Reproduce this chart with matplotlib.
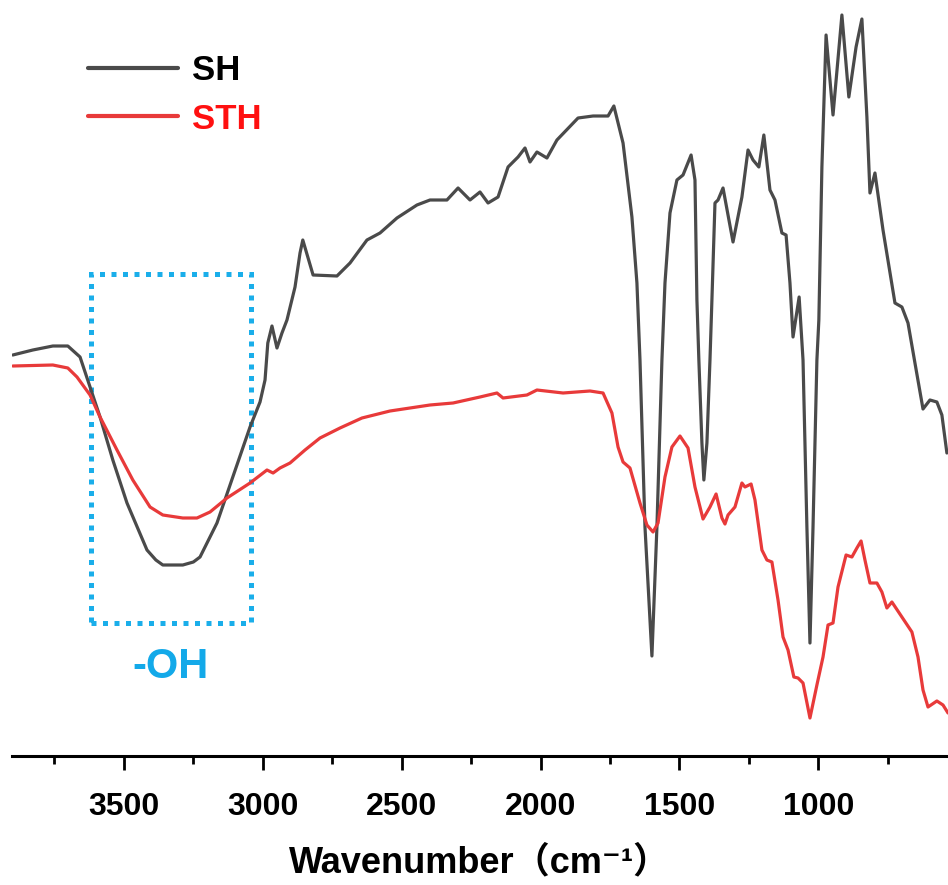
import matplotlib
matplotlib.use("Agg")
import matplotlib.pyplot as plt
from matplotlib.patches import Rectangle
from matplotlib.ticker import MultipleLocator

# ---- data ----
sh_wn = [3900, 3828, 3756, 3702, 3658, 3622, 3586, 3540, 3489, 3417, 3385, 3360, 3288, 3250,
         3226, 3165, 3108, 3046, 3010, 2992, 2982, 2967, 2949, 2931, 2913, 2884, 2866, 2856,
         2838, 2819, 2733, 2686, 2625, 2578, 2517, 2445, 2398, 2337, 2297, 2254, 2218,
         2189, 2153, 2117, 2081, 2056, 2038, 2013, 1977, 1941, 1865, 1811, 1757, 1736,
         1703, 1671, 1653, 1642, 1624, 1599, 1581, 1563, 1552, 1534, 1509, 1487, 1458,
         1444, 1437, 1430, 1419, 1412, 1401, 1390, 1383, 1372, 1361, 1343, 1307, 1275,
         1253, 1235, 1214, 1196, 1174, 1156, 1131, 1116, 1102, 1091, 1069, 1055, 1041,
         1030, 1019, 1005, 998, 987, 972, 947, 915, 890, 864, 843, 825, 814, 796, 767,
         724, 699, 677, 652, 623, 598, 573, 555, 537]
sh_t = [44.5, 45.0, 45.4, 45.4, 44.3, 41.3, 38.3, 34.0, 29.7, 25.0, 24.0, 23.5, 23.5, 23.8,
        24.3, 27.7, 32.3, 37.3, 39.8, 42.0, 45.7, 47.4, 45.2, 46.7, 48.0, 51.3, 54.7, 56.0,
        54.3, 52.5, 52.4, 53.7, 56.0, 56.7, 58.2, 59.5, 60.0, 60.0, 61.2, 60.0, 60.8,
        59.7, 60.3, 63.3, 64.3, 65.2, 63.8, 64.8, 64.2, 66.0, 68.2, 68.4, 68.4, 69.4,
        65.7, 58.3, 51.7, 44.0, 27.3, 14.4, 27.3, 44.0, 51.7, 58.7, 62.0, 62.5, 64.5,
        62.0, 50.0, 44.0, 35.7, 32.0, 35.7, 44.0, 50.0, 59.7, 60.0, 61.2, 55.8, 60.3,
        65.0, 64.0, 63.3, 66.5, 61.0, 60.0, 56.7, 56.5, 51.7, 46.3, 50.3, 44.0, 27.3,
        15.7, 27.3, 44.0, 48.0, 63.3, 76.5, 68.5, 78.5, 70.3, 75.3, 78.1, 68.3, 60.7,
        62.7, 57.0, 49.7, 49.3, 47.7, 43.7, 39.1, 40.0, 39.8, 38.5, 34.7]

sth_wn = [3900, 3756, 3702, 3669, 3622, 3586, 3525, 3468, 3406, 3360, 3288, 3237, 3190,
          3129, 3046, 2985, 2963, 2938, 2902, 2848, 2794, 2722, 2643, 2542, 2398, 2315,
          2218, 2157, 2135, 2049, 2013, 1919, 1822, 1775, 1743, 1721, 1703, 1678, 1642,
          1617, 1595, 1577, 1552, 1527, 1498, 1469, 1444, 1415, 1390, 1368, 1347, 1336,
          1325, 1300, 1275, 1264, 1242, 1228, 1203, 1185, 1167, 1145, 1127, 1109, 1088,
          1073, 1055, 1030, 1005, 983, 965, 947, 929, 900, 879, 861, 846, 832, 814, 789,
          771, 753, 735, 699, 663, 641, 623, 605, 573, 551, 533]
sth_t = [43.4, 43.5, 43.2, 42.3, 40.5, 38.3, 35.0, 32.0, 29.3, 28.5, 28.2, 28.2, 28.8,
         30.2, 31.7, 33.0, 32.7, 33.2, 33.7, 35.0, 36.2, 37.2, 38.2, 38.9, 39.5, 39.7,
         40.3, 40.7, 40.2, 40.5, 41.0, 40.7, 40.9, 40.7, 38.7, 35.3, 33.8, 33.2, 29.7,
         27.5, 26.8, 27.7, 32.3, 35.3, 36.4, 35.2, 31.3, 28.1, 29.3, 30.6, 28.2, 27.6,
         28.5, 29.3, 31.7, 31.3, 31.6, 30.0, 25.0, 24.0, 23.8, 20.0, 16.3, 15.0, 12.3,
         12.2, 11.7, 8.2, 11.5, 14.3, 17.5, 17.7, 21.3, 24.5, 24.3, 25.2, 25.9, 24.0,
         21.7, 21.7, 20.8, 19.2, 19.8, 18.3, 16.8, 14.3, 11.0, 9.3, 9.9, 9.5, 8.7]

series_labels = ["SH", "STH"]
xticks = [3500, 3000, 2500, 2000, 1500, 1000]
xlabel = "Wavenumber\uff08cm\u207b\u00b9\uff09"
box_label = "-OH"
oh_box = (3619, 3043, 17.7, 52.6)   # wn left, wn right, T bottom, T top

# ---- figure ----
FAM = ["Liberation Sans", "DejaVu Sans", "Noto Sans CJK SC"]
plt.rcParams["font.family"] = FAM
plt.rcParams["font.weight"] = "bold"

fig = plt.figure(figsize=(9.48, 8.85), dpi=100)
ax = fig.add_axes([12 / 948, 1 - 756 / 885, 1 - 12 / 948, 756 / 885])

ax.plot(sh_wn, sh_t, color="#4a4a4a", lw=2.3, label=series_labels[0],
        solid_joinstyle="round", solid_capstyle="round")
ax.plot(sth_wn, sth_t, color="#e83a3a", lw=2.3, label=series_labels[1],
        solid_joinstyle="round", solid_capstyle="round")

ax.set_xlim(3903, 533)
ax.set_ylim(4.4, 80)

for s in ["left", "right", "top"]:
    ax.spines[s].set_visible(False)
ax.spines["bottom"].set_linewidth(2.2)
ax.set_yticks([])
ax.set_xticks(xticks)
ax.xaxis.set_minor_locator(MultipleLocator(250))
ax.tick_params(axis="x", which="major", direction="out", length=10, width=2, pad=16,
               labelsize=23)
ax.tick_params(axis="x", which="minor", direction="out", length=5.5, width=2)
for t in ax.get_xticklabels():
    t.set_fontweight("bold")
ax.set_xlabel(xlabel, fontsize=26, fontweight="bold", labelpad=17)

# -OH box
x0, x1, y0, y1 = oh_box
rect = Rectangle((x0, y0), x1 - x0, y1 - y0, fill=False, edgecolor="#1aaeea",
                 lw=3.6, linestyle=(0, (1, 1.3)), capstyle="butt")
ax.add_patch(rect)
ax.text((x0 + x1) / 2, 13.3, box_label, color="#13a9e9", fontsize=30,
        fontweight="bold", ha="center", va="center")

leg = ax.legend(loc="upper left", bbox_to_anchor=(88 / 948, 1 - 54 / 885),
                bbox_transform=fig.transFigure, frameon=False,
                handlelength=2.6, handletextpad=0.4, labelspacing=0.45,
                borderpad=0, borderaxespad=0,
                prop={"weight": "bold", "size": 25})
for txt, c in zip(leg.get_texts(), ["black", "#ff1010"]):
    txt.set_color(c)
for ln in leg.get_lines():
    ln.set_linewidth(3)

fig.savefig("out.png", dpi=100)
